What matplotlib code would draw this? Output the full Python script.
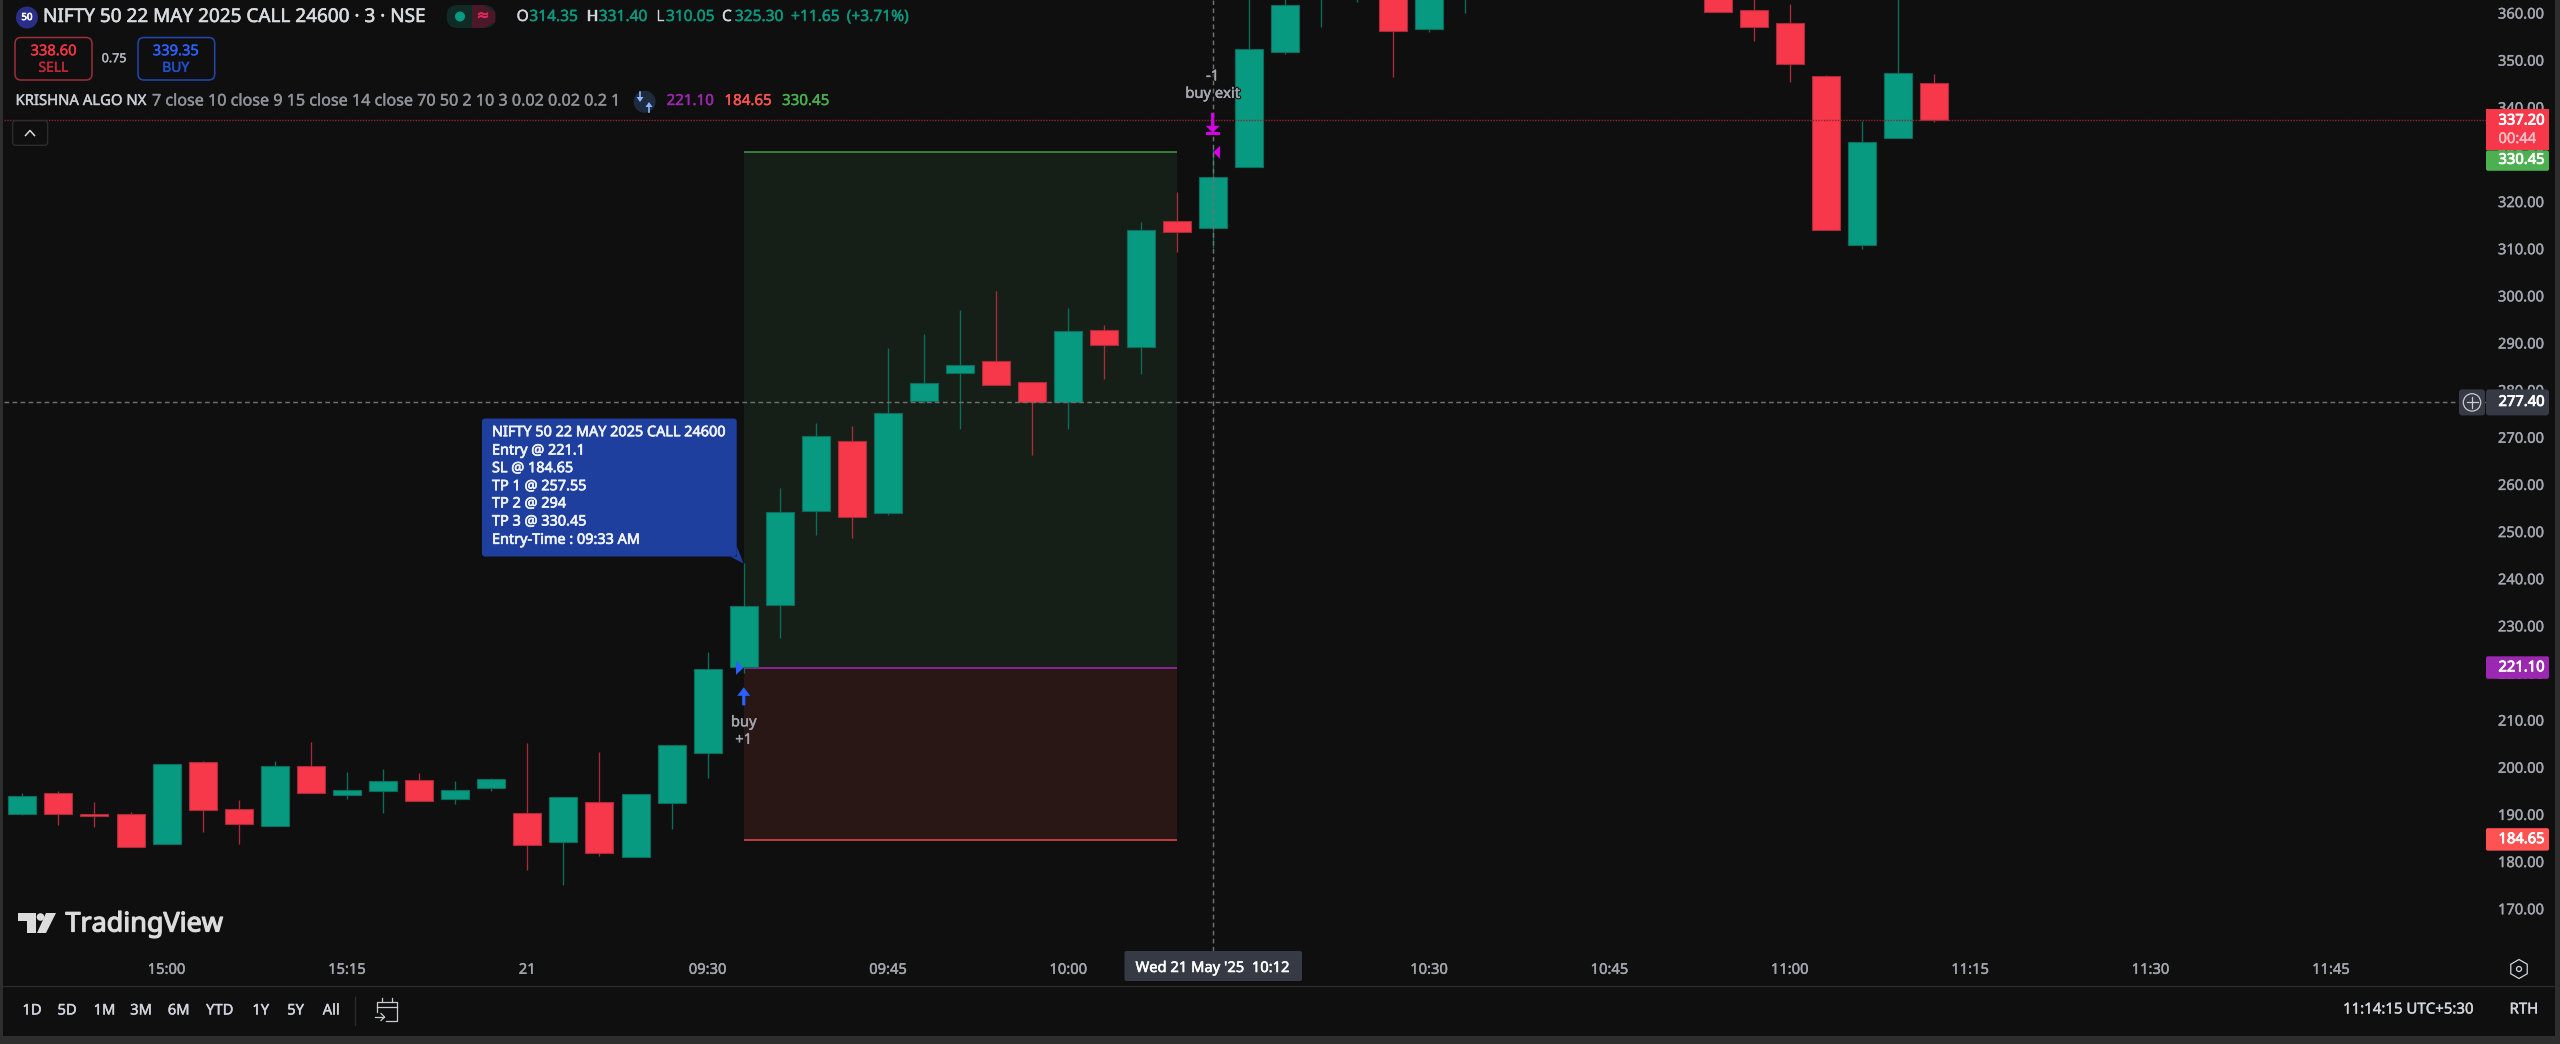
import matplotlib
matplotlib.use("Agg")
import matplotlib.pyplot as plt
import matplotlib.patheffects as pe
from matplotlib.patches import Circle, FancyBboxPatch, Polygon, Rectangle
from matplotlib.lines import Line2D
from matplotlib.transforms import Affine2D
import math

# ---------- data ----------
candle_idx = list(range(0, 41)) + list(range(47, 54))
opens = [190.02, 194.61, 190.02, 190.02, 183.65, 201.05, 191.15, 187.54, 200.27, 194.05,
         195.04, 197.37, 193.34, 195.67, 190.23, 184.07, 192.70, 180.96, 192.35, 202.96,
         221.20, 234.49, 254.36, 269.21, 254.00, 277.77, 283.56, 286.25, 281.80, 277.40,
         292.83, 289.15, 315.80, 314.35, 327.40, 351.80, 364.00, 364.00, 372.00, 356.60, 366.00,
         368.00, 360.64, 357.95, 346.70, 310.78, 333.41, 345.15]
closes = [193.83, 190.02, 189.66, 183.08, 200.62, 191.00, 187.89, 200.27, 194.47, 195.25,
          197.16, 192.91, 195.25, 197.51, 183.44, 193.69, 181.74, 194.26, 204.65, 220.78,
          234.27, 254.15, 270.20, 253.00, 275.20, 281.58, 285.40, 281.02, 277.40, 292.60,
          289.50, 313.89, 313.47, 325.30, 352.30, 361.70, 372.00, 370.00, 356.25, 368.00, 372.00,
          360.30, 356.96, 349.11, 313.90, 332.56, 347.27, 337.20]
highs = [194.61, 195.03, 192.63, 190.50, 200.62, 201.26, 193.05, 201.26, 205.43, 199.07,
         199.63, 198.71, 197.16, 197.72, 205.08, 193.69, 203.17, 194.26, 204.65, 224.38,
         243.26, 259.17, 273.03, 272.32, 288.87, 291.84, 297.00, 301.10, 281.80, 297.35,
         293.75, 315.59, 321.96, 331.40, 375.00, 366.00, 378.00, 376.00, 375.00, 370.00, 375.00,
         372.00, 368.00, 361.84, 346.90, 337.10, 375.00, 347.06]
lows = [189.80, 187.75, 187.32, 183.08, 183.65, 186.34, 183.79, 187.54, 194.47, 193.34,
        190.23, 192.91, 192.20, 195.04, 178.20, 175.10, 181.17, 180.96, 187.00, 197.80,
        219.92, 227.49, 249.34, 248.63, 253.50, 277.20, 271.75, 281.02, 266.17, 271.75,
        282.40, 283.35, 309.37, 310.05, 327.40, 351.20, 357.10, 362.40, 346.50, 356.04, 360.07,
        360.30, 354.13, 345.43, 313.90, 310.00, 333.41, 336.90]

price_ticks = [170, 180, 190, 200, 210, 220, 230, 240, 250, 260, 270, 280, 290, 300, 310,
               320, 330, 340, 350, 360]
time_tick_idx = [4, 9, 14, 19, 24, 29, 39, 44, 49, 54, 59, 64]
time_tick_labels = ["15:00", "15:15", "21", "09:30", "09:45", "10:00", "10:30", "10:45",
                    "11:00", "11:15", "11:30", "11:45"]

entry_price = 221.10
sl_price = 184.65
tp3_price = 330.45
last_price = 337.20
cross_price = 277.40
cross_idx = 33
zone_start = 20
zone_end = 32

tooltip_lines = ["NIFTY 50 22 MAY 2025 CALL 24600", "Entry @ 221.1", "SL @ 184.65", "TP 1 @ 257.55",
                 "TP 2 @ 294", "TP 3 @ 330.45", "Entry-Time : 09:33 AM"]
range_labels = ["1D", "5D", "1M", "3M", "6M", "YTD", "1Y", "5Y", "All"]
range_x = [32, 67, 104.5, 141, 178.6, 219.7, 260.8, 295.6, 331.3]

# ---------- style ----------
BG = "#0f0f0f"
BAND = "#2e2e2e"
GREEN = "#089981"
RED = "#f7374a"
GREEN_EDGE = "#0b6e5d"
RED_EDGE = "#a92c3a"
GREY = "#a3a6af"
LIGHT = "#d1d4dc"
BLUE = "#2962ff"
PURPLE = "#9c27b0"
CORAL = "#ff5252"
LIME = "#4caf50"
MAGENTA = "#d500e8"
FONT = "Noto Sans"
plt.rcParams["font.family"] = [FONT, "DejaVu Sans"]

W, H = 2560, 1044
fig = plt.figure(figsize=(W / 100, H / 100), dpi=100, facecolor=BG)
ax = fig.add_axes([4 / W, (H - 951) / H, 2482 / W, 951 / H], facecolor=BG)
ax.set_xlim(-0.507, 68.30)
ax.set_ylim(161.03, 362.76)
for s in ax.spines.values():
    s.set_visible(False)

T = Affine2D().scale(1, -1).translate(0, H)   # pixels, origin at the top left


def anchor(i, p):
    x, y = ax.transData.transform((i, p))
    return x, H - y


def txt(x, y, s, size=10.8, color=GREY, ha="left", va="center", z=20, heavy=0.3, halo=None):
    effects = [pe.withStroke(linewidth=heavy, foreground=color)]
    if halo:
        effects = [pe.withStroke(linewidth=halo, foreground=BG)] + effects
    return ax.text(x, y, s, transform=T, fontsize=size, color=color, ha=ha, va=va,
                   zorder=z, clip_on=False, path_effects=effects)


def box(x0, y0, x1, y1, fc, ec="none", r=3, lw=1, z=15):
    p = FancyBboxPatch((x0, y0), x1 - x0, y1 - y0, boxstyle=f"round,pad=0,rounding_size={r}",
                       fc=fc, ec=ec, lw=lw, transform=T, zorder=z, clip_on=False)
    ax.add_patch(p)
    return p


def poly(pts, fc, ec="none", z=16, lw=1, closed=True):
    p = Polygon(pts, closed=closed, fc=fc, ec=ec, lw=lw, transform=T, zorder=z, clip_on=False)
    ax.add_patch(p)
    return p


def line(xs, ys, color, lw=1.0, z=16, **kw):
    l = Line2D(xs, ys, color=color, lw=lw, transform=T, zorder=z, clip_on=False, **kw)
    ax.add_line(l)
    return l


# ---------- zones ----------
ax.fill_between([zone_start, zone_end], entry_price, tp3_price, color="#161f17", lw=0, zorder=1)
ax.fill_between([zone_start, zone_end], sl_price, entry_price, color="#291716", lw=0, zorder=1)
ax.hlines(tp3_price, zone_start, zone_end, color="#3f8f44", lw=1.2, zorder=1.5)
ax.hlines(entry_price, zone_start, zone_end, color=PURPLE, lw=1.2, zorder=1.5)
ax.hlines(sl_price, zone_start, zone_end, color="#d9474a", lw=1.2, zorder=1.5)

# ---------- candles ----------
up = [c >= o for o, c in zip(opens, closes)]
ax.vlines(candle_idx, lows, highs, colors=[GREEN_EDGE if u else RED_EDGE for u in up], lw=0.95, zorder=2)
ax.bar(candle_idx, [abs(c - o) for o, c in zip(opens, closes)], bottom=[min(o, c) for o, c in zip(opens, closes)],
       width=0.776, color=[GREEN if u else RED for u in up],
       edgecolor=[GREEN_EDGE if u else RED_EDGE for u in up], linewidth=0.8, zorder=3)

# ---------- lines ----------
ax.axhline(last_price, color="#8a2733", lw=1.0, ls=(0, (1, 1)), zorder=4)
ax.axhline(cross_price, color="#707070", lw=1.05, ls=(0, (3.2, 2.3)), zorder=5)
ax.axvline(cross_idx, color="#707070", lw=1.05, ls=(0, (3.2, 2.3)), zorder=5)

# ---------- axes labels ----------
ax.yaxis.tick_right()
ax.set_yticks(price_ticks)
ax.set_yticklabels([f"{p:.2f}" for p in price_ticks])
ax.tick_params(axis="y", length=0, pad=8.6, labelsize=10.6, labelcolor=GREY)
ax.set_xticks(time_tick_idx)
ax.set_xticklabels(time_tick_labels)
ax.tick_params(axis="x", length=0, pad=8.5, labelsize=10.6, labelcolor=GREY)
for lab in ax.get_xticklabels() + ax.get_yticklabels():
    lab.set_path_effects([pe.withStroke(linewidth=0.3, foreground=GREY)])

# ---------- price tags ----------
TX0, TX1, TTX = 2486, 2549, 2498.5
B = 0.6
_, ly = anchor(0, last_price)
_, gy = anchor(0, tp3_price)
poly([(TX0, ly - 11), (TX1, ly - 11), (TX1, gy - 2), (TX0, gy - 2)], RED, z=15)
box(TX0, gy - 2, TX1, gy + 18.5, LIME, r=2, z=15)
txt(TTX, ly + 0.5, f"{last_price:.2f}", size=10.6, color="white", heavy=B)
txt(TTX, ly + 19, "00:44", size=10.6, color="#ffc0c6")
txt(TTX, gy + 8, f"{tp3_price:.2f}", size=10.6, color="white", heavy=B)
_, py = anchor(0, entry_price)
box(TX0, py - 11.5, TX1, py + 11, PURPLE, r=2)
txt(TTX, py, f"{entry_price:.2f}", size=10.6, color="white", heavy=B)
_, sy = anchor(0, sl_price)
box(TX0, sy - 11.5, TX1, sy + 11, CORAL, r=2)
txt(TTX, sy, f"{sl_price:.2f}", size=10.6, color="white", heavy=B)
_, cy = anchor(0, cross_price)
box(2459, cy - 13, 2485, cy + 13, "#363a45", r=3)
box(2486, cy - 13, TX1, cy + 13, "#363a45", r=3)
txt(TTX, cy, f"{cross_price:.2f}", size=10.6, color="white", heavy=B)
ax.add_patch(Circle((2472, cy), 8.7, fc="none", ec="#c9cbd1", lw=0.9, transform=T, zorder=17, clip_on=False))
line([2466.5, 2477.5], [cy, cy], "#c9cbd1", lw=0.9, z=17)
line([2472, 2472], [cy - 5.5, cy + 5.5], "#c9cbd1", lw=0.9, z=17)

# date label
cx, _ = anchor(cross_idx, cross_price)
box(1124.5, 951, 1302, 981, "#363a45", r=2)
txt(cx, 968.5, "Wed 21 May '25  10:12", size=10.6, color="white", ha="center", heavy=0.4)

# ---------- signals ----------
ex, ey = anchor(zone_start, entry_price)
poly([(ex - 7.7, ey - 7), (ex - 0.3, ey), (ex - 7.7, ey + 7)], BLUE, z=8)
poly([(ex, ey + 19.5), (ex + 6.5, ey + 28), (ex + 1.6, ey + 28), (ex + 1.6, ey + 37.5),
      (ex - 1.6, ey + 37.5), (ex - 1.6, ey + 28), (ex - 6.5, ey + 28)], BLUE, z=8)
txt(ex, ey + 55, "buy", size=10.6, color=GREY, ha="center")
txt(ex, ey + 72.5, "+1", size=10.6, color=GREY, ha="center")

xx, xy = anchor(cross_idx, tp3_price)
poly([(xx + 0.6, xy), (xx + 7.4, xy - 6.5), (xx + 7.4, xy + 6.5)], MAGENTA, z=8)
poly([(xx - 1.6, xy - 39.5), (xx + 1.6, xy - 39.5), (xx + 1.6, xy - 26.5), (xx + 7, xy - 26.5), (xx, xy - 19.5),
      (xx - 7, xy - 26.5), (xx - 1.6, xy - 26.5)], MAGENTA, z=8)
poly([(xx - 7, xy - 20), (xx + 7, xy - 20), (xx + 7, xy - 17.5), (xx - 7, xy - 17.5)], MAGENTA, z=8)
txt(xx, xy - 58, "buy exit", size=10.6, color=GREY, ha="center", z=9, halo=2)
txt(xx, xy - 75.5, "-1", size=10.6, color=GREY, ha="center", z=9, halo=2)

# ---------- tooltip ----------
box(482, 418.5, 736.7, 556.5, "#1f3f9f", r=3, z=14)
poly([(736.7, 546), (736.7, 556.4), (730, 556.4), (743.5, 563.5)], "#1f3f9f", z=14)
for yy, s in zip([432.7, 451, 468.7, 486.7, 504, 522, 540.3], tooltip_lines):
    txt(492, yy, s, size=10.4, color="#f0f3fa", heavy=0.5)

# ---------- header ----------
ax.add_patch(Circle((27, 17.5), 11, fc="#2a2e86", ec="none", transform=T, zorder=15, clip_on=False))
txt(27, 17.5, "50", size=7, color="white", ha="center", heavy=0.5)
txt(43, 17, "NIFTY 50 22 MAY 2025 CALL 24600 · 3 · NSE", size=13.65, color="#d8dae0", heavy=0.4)
box(446.6, 5, 495.4, 28, "#0e2b26", r=11)
poly([(472, 5), (484, 5), (495.4, 12), (495.4, 22), (484, 28), (472, 28)], "#4a1828", z=15.5)
ax.add_patch(Circle((460, 16.5), 5, fc=GREEN, ec="none", transform=T, zorder=16, clip_on=False))
txt(483, 16.5, "≈", size=11, color="#e02a5a", ha="center", heavy=0.5, z=17)
for x, s, c in [(516.6, "O", LIGHT), (529.3, "314.35", GREEN), (586.7, "H", LIGHT), (598.7, "331.40", GREEN),
                (656, "L", LIGHT), (665.9, "310.05", GREEN), (722, "C", LIGHT), (734.8, "325.30", GREEN),
                (791, "+11.65", GREEN), (846.7, "(+3.71%)", GREEN)]:
    txt(x, 17, s, size=11.2, color=c)

box(15, 37.5, 92, 80, BG, ec="#9c2f3b", r=6, lw=1.1)
txt(53.5, 51.7, "338.60", size=10.6, color="#f23645", ha="center")
txt(53.5, 68.3, "SELL", size=10, color="#c02a38", ha="center")
txt(114, 58.7, "0.75", size=9, color="#b2b5be", ha="center")
box(138, 37.5, 214.7, 80, BG, ec="#2547b0", r=6, lw=1.1)
txt(175.7, 51.7, "339.35", size=10.6, color=BLUE, ha="center")
txt(175.7, 68.3, "BUY", size=10, color="#2250d0", ha="center")

txt(15.5, 101.5, "KRISHNA ALGO NX", size=10.7, color="#c9ccd3")
txt(152, 101.5, "7 close 10 close 9 15 close 14 close 70 50 2 10 3 0.02 0.02 0.2 1", size=11.6, color="#8f9298")
ax.add_patch(Circle((644.6, 101.7), 11, fc="#1e2a3e", ec="none", transform=T, zorder=15, clip_on=False))
poly([(636.5, 97), (643.5, 97), (640, 102)], "#8fb4ff", z=17)
poly([(645.5, 107), (652.5, 107), (649, 102)], "#8fb4ff", z=17)
line([640, 640], [92, 97], "#8fb4ff", lw=1.2, z=17)
line([649, 649], [107, 112], "#8fb4ff", lw=1.2, z=17)
txt(666.5, 101.5, "221.10", size=10.9, color=PURPLE)
txt(724.4, 101.5, "184.65", size=10.9, color=CORAL)
txt(782, 101.5, "330.45", size=10.9, color=LIME)
box(12.6, 120.7, 47.6, 145.3, BG, ec="#2c2c2c", r=3, lw=1)
line([25.5, 30, 34.5], [135.5, 130.5, 135.5], "#d8dae0", lw=1.1, z=17)

# ---------- TradingView logo ----------
LOGO = "#dcdcdc"
poly([(18, 913), (36, 913), (36, 933), (27, 933), (27, 921), (18, 921)], LOGO)
ax.add_patch(Circle((40.5, 917), 3.8, fc=LOGO, ec="none", transform=T, zorder=16, clip_on=False))
poly([(46, 913), (56, 913), (46, 933), (37, 933)], LOGO)
txt(65.5, 924.5, "TradingView", size=19.4, color=LOGO, heavy=0.9)

# ---------- bottom chrome ----------
for x, s in zip(range_x, range_labels):
    txt(x, 1011, s, size=10.6, color=LIGHT, ha="center")
line([355.4, 355.4], [997, 1025], "#2c2c2c", lw=0.9)
CAL = "#c9ccd3"
line([377, 377, 397, 397, 386], [1012, 1002, 1002, 1021, 1021], CAL, lw=0.9)
line([377, 397], [1007, 1007], CAL, lw=0.9)
line([382, 382], [998, 1002], CAL, lw=0.9)
line([392, 392], [998, 1002], CAL, lw=0.9)
line([375, 384], [1017, 1017], CAL, lw=0.9)
line([381, 384.5, 381], [1013.5, 1017, 1020.5], CAL, lw=0.9)
txt(2343, 1010, "11:14:15 UTC+5:30", size=10.8, color=LIGHT)
txt(2509.5, 1010, "RTH", size=10.8, color=LIGHT)
hex_pts = [(2519 + 9.5 * math.cos(math.radians(a)), 969 + 9.5 * math.sin(math.radians(a))) for a in range(30, 390, 60)]
poly(hex_pts, "none", ec=LIGHT, lw=0.9)
ax.add_patch(Circle((2519, 969), 2.5, fc="none", ec=LIGHT, lw=0.9, transform=T, zorder=16, clip_on=False))

# ---------- frame ----------
line([0, W], [986, 986], "#2a2a2a", lw=1.0, z=12)
ax.add_patch(Rectangle((0, 0), 3, H, fc=BAND, ec="none", transform=T, zorder=30, clip_on=False))
ax.add_patch(Rectangle((2555, 0), 5, H, fc=BAND, ec="none", transform=T, zorder=30, clip_on=False))
ax.add_patch(Rectangle((0, 1036), W, 8, fc=BAND, ec="none", transform=T, zorder=30, clip_on=False))

fig.savefig("out.png", dpi=100, facecolor=BG)
